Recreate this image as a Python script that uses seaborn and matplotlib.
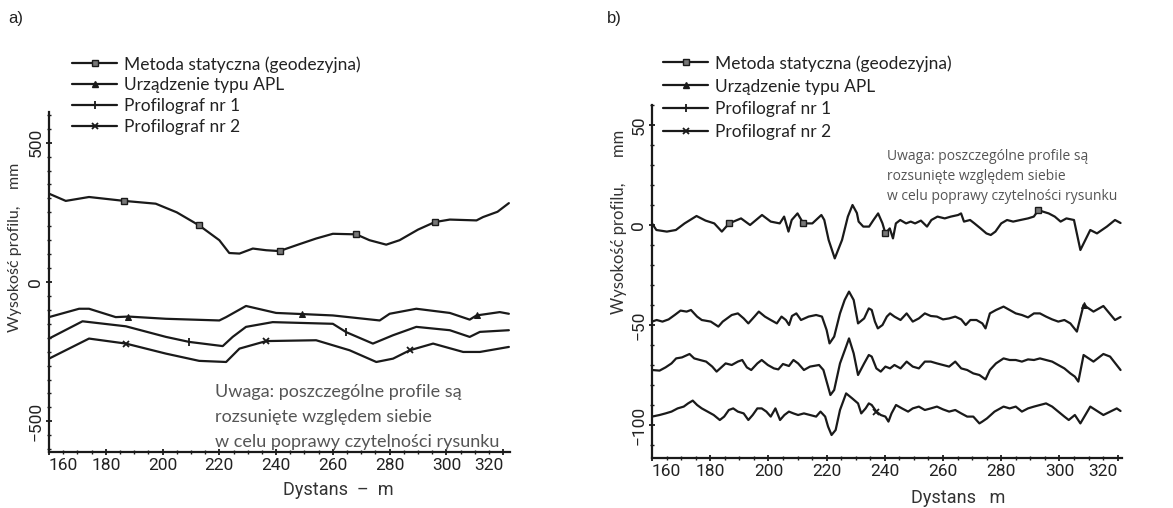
import matplotlib
matplotlib.use("Agg")
import matplotlib.pyplot as plt
from matplotlib.ticker import FixedLocator, MultipleLocator
from matplotlib.lines import Line2D
import seaborn as sns
import pandas as pd

sns.set_theme(style="ticks")
plt.rcParams['font.family'] = ['Lato', 'DejaVu Sans']
plt.rcParams['axes.unicode_minus'] = True

TXT = ['Lato', 'DejaVu Sans']
NUM = ['Liberation Sans Narrow', 'Roboto', 'DejaVu Sans']
INK = '#1a1a1a'

labels = ["Metoda statyczna (geodezyjna)", "Urządzenie typu APL",
          "Profilograf nr 1", "Profilograf nr 2"]
note_lines = ["Uwaga: poszczególne profile są", "rozsunięte względem siebie",
              "w celu poprawy czytelności rysunku"]
x_ticks = [160, 180, 200, 220, 240, 260, 280, 300, 320]
y_ticks_a = [-500, 0, 500]
y_ticks_b = [-100, -50, 0, 50]

# ---------------- panel a) data ----------------
a_stat_x = [160, 165.9, 174.1, 186.5, 197.6, 205.0, 212.9, 220.0, 223.5, 227.1, 231.8, 236.5, 241.2,
            248.0, 254.1, 260.0, 268.2, 272.9, 278.8, 283.5, 290.0, 295.9, 301.2, 310.6, 312.9,
            318.0, 322.0]
a_stat_y = [317, 291, 305, 291, 281, 250, 203, 150, 104, 102, 120, 114, 111,
            135, 156, 173, 171, 150, 134, 150, 188, 215, 224, 221, 233, 252, 283]
a_stat_mk = [186.5, 212.9, 241.2, 268.2, 295.9]

a_apl_x = [160, 170.6, 174.1, 183.5, 188.0, 201.2, 220.0, 222.4, 229.4, 240.0, 249.0, 260.0,
           276.5, 280.0, 289.4, 301.2, 308.2, 310.6, 318.8, 322.0]
a_apl_y = [-126, -96, -96, -126, -124, -132, -138, -126, -86, -111, -115, -120,
           -138, -114, -96, -111, -135, -120, -108, -114]
a_apl_mk = [188.0, 249.0, 310.6]

a_p1_x = [160, 171.8, 187.1, 201.2, 209.4, 221.2, 224.7, 229.4, 238.8, 260.0, 264.7, 274.1,
          281.2, 289.4, 301.2, 308.2, 311.8, 322.0]
a_p1_y = [-203, -141, -159, -197, -215, -230, -197, -161, -144, -150, -180, -221,
          -191, -161, -173, -197, -179, -173]
a_p1_mk = [209.4, 264.7]

a_p2_x = [160, 174.1, 187.1, 201.2, 212.9, 222.4, 227.1, 236.5, 254.1, 265.9, 275.3, 281.2,
          287.1, 295.3, 305.9, 311.8, 322.0]
a_p2_y = [-275, -203, -221, -257, -283, -287, -239, -212, -209, -245, -287, -275,
          -245, -221, -251, -251, -233]
a_p2_mk = [187.1, 236.5, 287.1]

# ---------------- panel b) data ----------------
b_stat_x = [160, 161.5, 165.1, 168.2, 171.2, 175.3, 178.4, 181.4, 184.0, 186.5, 190.6, 193.7,
            197.8, 200.8, 203.9, 205.4, 206.9, 208.0, 210.0, 212.0, 215.1, 218.2, 219.2, 220.7,
            222.8, 225.3, 227.3, 228.9, 230.4, 231.0, 232.6, 234.6, 236.1, 237.7, 239.2, 240.2,
            241.7, 242.8, 243.8, 245.3, 247.3, 248.9, 250.4, 252.4, 254.5, 256.0, 258.1, 260.6,
            262.7, 265.2, 266.2, 267.2, 269.3, 270.8, 272.9, 274.9, 276.4, 278.0, 280.0, 282.0,
            284.1, 286.6, 289.2, 291.2, 292.8, 294.3, 296.3, 298.4, 300.4, 302.4, 305.0, 307.2,
            310.6, 312.9, 316.3, 319.1, 321.0]
b_stat_y = [0.8, -2.5, -3.3, -2.5, 0.8, 4.5, 2.2, 0.8, -3.3, 0.8, 3.3, 0.0,
            5.0, 1.7, 0.8, 4.2, -3.3, 2.5, 5.8, 0.8, 0.8, 5.0, 2.5, -7.5,
            -16.7, -7.5, 4.2, 10.0, 6.0, 1.7, -0.8, -0.8, 2.5, 5.8, 0.8, -4.2,
            -1.7, -6.7, 0.8, 2.5, 0.8, 1.7, 0.8, 2.2, -0.8, 2.5, 4.2, 3.3,
            4.2, 5.0, 5.8, 1.7, 2.5, 0.8, -1.7, -4.2, -5.0, -3.3, 0.8, 2.5,
            1.7, 2.5, 3.3, 4.2, 7.5, 6.7, 5.8, 4.2, 1.7, 3.3, 2.5, -12.5,
            -2.5, -4.2, -0.8, 2.5, 1.0]
b_stat_mk = [186.5, 212.0, 240.2, 292.8]

b_apl_x = [160, 161.6, 163.6, 165.7, 167.8, 169.8, 171.9, 173.4, 175.5, 177.1, 180.2, 182.8,
           184.3, 187.4, 189.5, 191.5, 193.1, 195.2, 196.7, 198.8, 200.8, 202.9, 204.5, 206.0,
           207.1, 208.1, 209.6, 211.2, 213.8, 216.4, 218.4, 220.0, 221.0, 222.6, 224.6, 226.2,
           227.7, 229.3, 230.8, 232.9, 234.5, 235.5, 236.6, 237.6, 239.2, 240.7, 241.8, 243.3,
           245.4, 247.5, 249.6, 251.7, 253.75, 255.8, 257.9, 260.0, 262.1, 264.2, 266.25, 267.8,
           269.4, 271.5, 273.5, 274.6, 276.1, 278.2, 280.8, 282.9, 285.0, 287.1, 289.2, 291.25,
           293.3, 295.4, 297.5, 299.6, 301.7, 303.75, 306.0, 308.3, 311.7, 315.1, 319.1, 321.0]
b_apl_y = [-48.3, -47.5, -48.3, -47.2, -45.0, -42.8, -43.3, -42.5, -45.8, -47.5, -48.3, -50.8,
           -48.3, -45.0, -44.2, -46.7, -49.2, -45.8, -43.3, -45.8, -47.5, -49.2, -45.8, -47.5,
           -50.0, -45.5, -44.2, -47.5, -45.8, -45.0, -45.8, -52.5, -59.2, -55.8, -44.2, -37.5,
           -33.3, -37.5, -49.2, -46.7, -41.7, -42.5, -48.3, -51.7, -50.0, -45.8, -44.2, -45.8,
           -47.5, -44.2, -48.3, -46.7, -44.2, -45.5, -45.8, -47.2, -46.7, -45.8, -47.2, -50.0,
           -47.5, -47.5, -49.2, -51.7, -44.2, -42.5, -40.8, -42.5, -44.2, -45.0, -46.2, -44.2,
           -44.2, -45.8, -47.2, -48.3, -47.5, -49.2, -53.3, -40.0, -43.3, -40.5, -47.5, -46.0]
b_apl_mk = [308.3]

b_p1_x = [160, 162.6, 164.65, 166.7, 168.3, 170.3, 172.9, 174.5, 176.5, 178.6, 180.7, 182.2,
          183.8, 185.3, 187.4, 189.5, 191.0, 192.6, 194.1, 196.2, 197.7, 199.8, 201.9, 203.4,
          205.0, 207.05, 208.6, 210.2, 212.2, 214.3, 217.4, 218.9, 220.5, 221.3, 222.6, 224.6,
          226.7, 227.7, 229.3, 230.8, 232.9, 234.5, 235.5, 237.1, 238.6, 240.2, 241.8, 243.3,
          245.4, 247.5, 249.6, 251.7, 253.75, 255.8, 257.9, 260.0, 262.1, 264.2, 266.25, 268.3,
          270.4, 272.5, 274.6, 276.1, 278.2, 280.8, 282.9, 285.0, 287.1, 289.2, 291.25, 293.3,
          295.4, 297.5, 299.6, 301.7, 303.75, 305.3, 306.5, 308.3, 311.7, 315.1, 317.4, 321.0]
b_p1_y = [-72.5, -72.8, -71.2, -69.2, -66.7, -66.2, -64.5, -66.7, -67.5, -68.3, -70.8, -73.3,
          -71.2, -69.2, -70.0, -68.3, -67.5, -71.2, -72.5, -69.2, -67.5, -70.0, -71.7, -72.2,
          -69.5, -70.5, -67.5, -69.2, -72.5, -70.8, -70.0, -72.5, -80.8, -85.0, -82.5, -69.2,
          -60.8, -56.7, -64.2, -75.0, -69.2, -65.0, -65.8, -71.7, -73.3, -70.8, -71.7, -70.0,
          -71.7, -68.3, -70.8, -71.7, -68.3, -68.3, -69.2, -70.0, -70.8, -68.3, -71.7, -72.5,
          -74.2, -75.0, -77.2, -72.5, -69.2, -66.7, -67.5, -67.5, -68.3, -67.2, -67.5, -66.7,
          -67.5, -68.3, -70.0, -71.7, -74.2, -75.8, -78.3, -65.0, -68.3, -64.5, -65.8, -72.5]

b_p2_x = [160, 162.6, 164.65, 166.7, 168.8, 170.9, 172.4, 174.0, 175.5, 177.1, 179.1, 181.2,
          183.3, 184.8, 186.4, 187.9, 189.5, 191.5, 193.1, 194.6, 196.2, 197.7, 199.3, 200.8,
          202.4, 204.0, 205.5, 207.05, 208.6, 210.2, 212.2, 214.3, 216.4, 217.9, 219.5, 220.5,
          221.7, 223.1, 224.6, 226.7, 228.8, 230.8, 231.9, 233.4, 234.5, 235.5, 237.1, 238.6,
          240.2, 241.25, 242.3, 243.85, 245.9, 248.0, 249.6, 251.7, 253.75, 255.8, 257.9, 260.0,
          262.1, 264.2, 266.25, 268.3, 270.4, 272.5, 273.5, 275.1, 277.7, 280.8, 282.9, 285.0,
          287.1, 289.2, 291.25, 293.3, 295.4, 297.5, 299.6, 301.7, 303.2, 305.3, 307.2, 310.6,
          315.1, 319.7, 321.0]
b_p2_y = [-95.8, -95.0, -94.2, -93.3, -91.7, -90.8, -89.2, -87.8, -90.0, -91.7, -93.3, -95.0,
          -97.5, -95.8, -92.5, -91.7, -93.3, -94.2, -97.5, -95.0, -91.7, -91.7, -93.3, -95.8,
          -91.7, -97.5, -95.0, -93.3, -94.2, -95.0, -94.2, -95.0, -95.8, -93.3, -95.8, -100.8,
          -105.0, -102.5, -92.5, -84.2, -86.7, -89.2, -94.2, -91.7, -89.2, -90.0, -93.3, -95.0,
          -95.8, -98.3, -94.2, -90.0, -91.7, -93.3, -91.7, -90.8, -92.5, -91.7, -90.8, -92.2,
          -93.3, -92.5, -94.2, -95.8, -95.8, -99.2, -98.3, -96.7, -93.3, -90.8, -91.7, -90.8,
          -93.3, -91.7, -90.8, -90.0, -89.2, -90.8, -93.3, -95.8, -97.5, -95.0, -99.2, -90.8,
          -95.0, -91.7, -93.0]
b_p2_mk = [237.1]

MARKERS = [dict(marker='s', markersize=4.5, markerfacecolor='#777', markeredgecolor=INK, markeredgewidth=1.0),
           dict(marker='^', markersize=4.5, markerfacecolor=INK, markeredgecolor=INK),
           dict(marker='|', markersize=6, markeredgewidth=1.3, markeredgecolor=INK),
           dict(marker='x', markersize=4, markeredgewidth=1.3, markeredgecolor=INK)]

fig = plt.figure(figsize=(11.73, 5.08), dpi=100)
W, H = 1173.0, 508.0
ax1 = fig.add_axes([49 / W, 1 - 452 / H, 461 / W, 340 / H])
ax2 = fig.add_axes([652 / W, 1 - 458 / H, 470 / W, 353 / H])


def draw(ax, series):
    for i, (xs, ys, mk) in enumerate(series):
        df = pd.DataFrame({"d": xs, "h": ys})
        idx = [xs.index(v) for v in mk]
        sns.lineplot(data=df, x="d", y="h", ax=ax, color=INK, linewidth=1.6,
                     estimator=None, sort=False, markevery=idx if idx else None,
                     **(MARKERS[i] if idx else {}))


def style(ax, xlim, ylim, yticks, yminor):
    ax.set_xlim(*xlim)
    ax.set_ylim(*ylim)
    for s in ['top', 'right']:
        ax.spines[s].set_visible(False)
    for s in ['left', 'bottom']:
        ax.spines[s].set_linewidth(1.6)
        ax.spines[s].set_color(INK)
    ax.xaxis.set_major_locator(FixedLocator(x_ticks))
    ax.xaxis.set_minor_locator(MultipleLocator(5))
    ax.yaxis.set_major_locator(FixedLocator(yticks))
    ax.yaxis.set_minor_locator(MultipleLocator(yminor))
    ax.tick_params(which='major', length=5, width=1.3, direction='inout', color=INK,
                   labelsize=12.5, labelcolor='#222', pad=1.5)
    ax.tick_params(which='minor', length=3, width=1.0, direction='inout', color=INK)
    ax.tick_params(axis='y', labelrotation=90)
    for t in ax.get_xticklabels() + ax.get_yticklabels():
        t.set_family(NUM)
    for t in ax.get_yticklabels():
        t.set_va('center')
    xl = ax.get_xticklabels()
    xl[0].set_ha('left')
    xl[-1].set_ha('right')
    ax.set_xlabel('')
    ax.set_ylabel('')
    ax.set_facecolor('white')


draw(ax1, [(a_stat_x, a_stat_y, a_stat_mk), (a_apl_x, a_apl_y, a_apl_mk),
           (a_p1_x, a_p1_y, a_p1_mk), (a_p2_x, a_p2_y, a_p2_mk)])
draw(ax2, [(b_stat_x, b_stat_y, b_stat_mk), (b_apl_x, b_apl_y, b_apl_mk),
           (b_p1_x, b_p1_y, []), (b_p2_x, b_p2_y, b_p2_mk)])

leg_handles = [Line2D([], [], color=INK, linewidth=1.6, **m) for m in MARKERS]

style(ax1, (160, 322.4), (-610, 610), y_ticks_a, 50)
style(ax2, (160, 321.5), (-116.5, 60), y_ticks_b, 10)

for ax, x0, ytop, sp in [(ax1, 72, 56, 0.28), (ax2, 663, 55, 0.40)]:
    ax.legend(handles=leg_handles, labels=labels, loc='upper left',
              bbox_to_anchor=(x0 / W, 1 - ytop / H), bbox_transform=fig.transFigure,
              frameon=False, prop={'family': TXT, 'size': 12.5}, labelcolor='#222',
              handlelength=2.6, handletextpad=0.4, labelspacing=sp,
              borderpad=0, borderaxespad=0)

# panel letters
fig.text(8 / W, 1 - 19 / H, 'a)', family=['Liberation Sans', 'DejaVu Sans'], size=12,
         va='center', ha='left', color='#222')
fig.text(607 / W, 1 - 19 / H, 'b)', family=['Liberation Sans', 'DejaVu Sans'], size=12,
         va='center', ha='left', color='#222')

# axis titles
fig.text(15 / W, 1 - 247 / H, 'Wysokość profilu,    mm', rotation=90, family=TXT, size=11.5,
         va='center', ha='center', color='#333')
fig.text(619 / W, 1 - 222 / H, 'Wysokość profilu,      mm', rotation=90, family=TXT, size=12,
         va='center', ha='center', color='#333')
fig.text(338 / W, 1 - 490 / H, 'Dystans  –  m', family=NUM, size=13,
         va='center', ha='center', color='#333')
fig.text(958 / W, 1 - 498 / H, 'Dystans   m', family=NUM, size=13,
         va='center', ha='center', color='#333')

# notes
for i, line in enumerate(note_lines):
    fig.text(215 / W, 1 - (392 + 25 * i) / H, line, family=TXT, size=13,
             va='center', ha='left', color='#555')
    fig.text(887 / W, 1 - (157 + 20 * i) / H, line, family=['Open Sans', 'DejaVu Sans'],
             size=10, va='center', ha='left', color='#555')

fig.savefig('out.png', dpi=100, facecolor='white')
